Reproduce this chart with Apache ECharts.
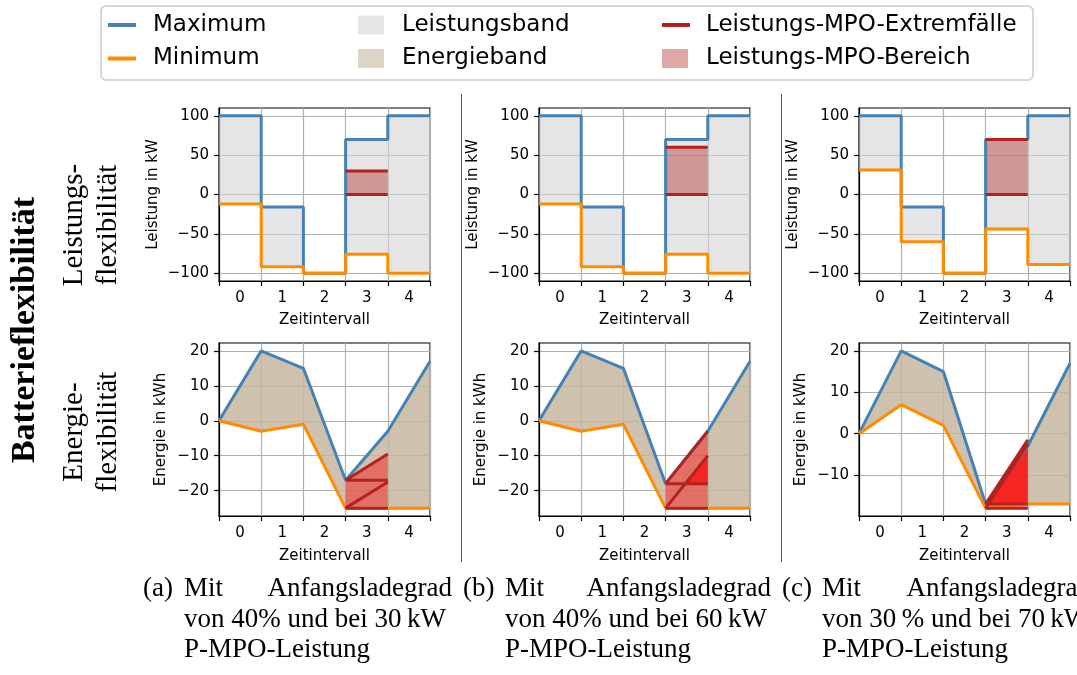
<!DOCTYPE html>
<html>
<head>
<meta charset="utf-8">
<script src="https://cdn.jsdelivr.net/npm/echarts@6/dist/echarts.min.js"></script>
<style>
html, body { margin: 0; padding: 0; background: #fff; }
#chart { width: 1077px; height: 675px; }
</style>
</head>
<body>
<div id="chart"></div>
<script>
// Zeitintervalle und ihre Grenzen
const intervals = ['0', '1', '2', '3', '4'];
const bounds = [0, 1, 2, 3, 4, 5];

// (a) Anfangsladegrad 40 %, 30 kW P-MPO
const pMaxA = [100, -16, -100, 70, 100];
const pMinA = [-12, -92, -100, -76, -100];
const eMaxA = [0, 20, 15, -17, -3, 17];
const eMinA = [0, -3, -1, -25, -25, -25];
const mpoPowA = [0, 30];
const mpoStartA = [-17, -25];
const mpoEndA = [-9.5, -17.5];

// (b) Anfangsladegrad 40 %, 60 kW P-MPO
const pMaxB = [100, -16, -100, 70, 100];
const pMinB = [-12, -92, -100, -76, -100];
const eMaxB = [0, 20, 15, -18, -3, 17];
const eMinB = [0, -3, -1, -25, -25, -25];
const mpoPowB = [0, 60];
const mpoStartB = [-18, -25];
const mpoEndB = [-3, -10];

// (c) Anfangsladegrad 30 %, 70 kW P-MPO
const pMaxC = [100, -16, -100, 70, 100];
const pMinC = [31, -60, -100, -44, -89];
const eMaxC = [0, 20, 15, -17, -3, 17];
const eMinC = [0, 7, 2, -18, -17, -17];
const mpoPowC = [0, 70];
const mpoStartC = [-17, -18];
const mpoEndC = [-1.5, -2.5];

// Achsen
const mpoInterval = 3;
const powRange = [-110, 110];
const powTicks = [-100, -50, 0, 50, 100];
const enRangeAB = [-27.25, 22.25];
const enRangeC = [-19.9, 21.9];
const enTicksAB = [-20, -10, 0, 10, 20];
const enTicksC = [-10, 0, 10, 20];

// Beschriftungen
const capLetters = ['(a)', '(b)', '(c)'];
const capSoc = ['40%', '40%', '30\u2009%'];
const capPow = ['30', '60', '70'];

const panels = [
  { pMax: pMaxA, pMin: pMinA, eMax: eMaxA, eMin: eMinA, pow: mpoPowA, st: mpoStartA, en: mpoEndA, er: enRangeAB, et: enTicksAB },
  { pMax: pMaxB, pMin: pMinB, eMax: eMaxB, eMin: eMinB, pow: mpoPowB, st: mpoStartB, en: mpoEndB, er: enRangeAB, et: enTicksAB },
  { pMax: pMaxC, pMin: pMinC, eMax: eMaxC, eMin: eMinC, pow: mpoPowC, st: mpoStartC, en: mpoEndC, er: enRangeC, et: enTicksC }
];

const BLUE = '#4682b4', ORANGE = '#ff8c00', DARKRED = '#b22222';
const MPO_FILL = 'rgba(255,0,0,0.42)';
const gridLeft = [219, 539, 859];
const gridTop = [108, 343];
const FONT = 'DejaVu Sans';
const SERIF = 'Liberation Serif';

const minus = v => (v < 0 ? '\u2212' + (-v) : String(v));

// Fläche zwischen unterer und oberer Kurve als ein Polygon
function bandItem(params, api) {
  if (params.dataIndexInside !== 0) return null;
  const n = params.dataInsideLength;
  const pts = [];
  for (let j = 0; j < n; j++) pts.push(api.coord([api.value(0, j), api.value(1, j)]));
  for (let j = n - 1; j >= 0; j--) pts.push(api.coord([api.value(0, j), api.value(2, j)]));
  return { type: 'polygon', shape: { points: pts }, style: { fill: api.visual('color') } };
}

function stepBand(lo, hi) {
  const out = [];
  lo.forEach((v, i) => {
    out.push([bounds[i], v, hi[i]]);
    out.push([bounds[i + 1], v, hi[i]]);
  });
  return out;
}

function stepLine(vals) {
  return vals.map((v, i) => [bounds[i], v]).concat([[bounds[vals.length], vals[vals.length - 1]]]);
}

function band(idx, name, data, color) {
  return {
    type: 'custom', name: name, xAxisIndex: idx, yAxisIndex: idx,
    renderItem: bandItem, data: data, clip: true, silent: true,
    itemStyle: { color: color }
  };
}

function line(idx, name, data, color, step) {
  return {
    type: 'line', name: name, xAxisIndex: idx, yAxisIndex: idx,
    data: data, step: step || false, symbol: 'none', silent: true,
    color: color, lineStyle: { color: color, width: 3 }
  };
}

const grids = [], xAxes = [], yAxes = [], series = [];

function axisX(idx, gap) {
  return {
    gridIndex: idx, type: 'value', min: bounds[0], max: bounds[bounds.length - 1],
    name: 'Zeitintervall', nameLocation: 'middle', nameGap: gap,
    nameTextStyle: { fontSize: 15, fontFamily: FONT, color: '#000' },
    axisLine: { show: true, onZero: false, lineStyle: { color: '#000', width: 1.2 } },
    axisTick: { show: true, length: 5, customValues: bounds, lineStyle: { color: '#000', width: 1.2 } },
    axisLabel: {
      customValues: intervals.map((_, i) => i + 0.5),
      formatter: v => intervals[Math.floor(v)],
      fontSize: 15, fontFamily: FONT, color: '#000', margin: 10
    },
    splitLine: { show: true, lineStyle: { color: '#b0b0b0', width: 1.2 } }
  };
}

function axisY(idx, name, range, ticks, gap) {
  return {
    gridIndex: idx, type: 'value', min: range[0], max: range[1],
    name: name, nameLocation: 'middle', nameGap: gap,
    nameTextStyle: { fontSize: 15, fontFamily: FONT, color: '#000' },
    axisLine: { show: true, onZero: false, lineStyle: { color: '#000', width: 1.2 } },
    axisTick: { show: true, length: 5, customValues: ticks, lineStyle: { color: '#000', width: 1.2 } },
    axisLabel: { customValues: ticks, formatter: minus, fontSize: 15, fontFamily: FONT, color: '#000', margin: 10 },
    splitLine: { show: true, lineStyle: { color: '#b0b0b0', width: 1.2 } }
  };
}

panels.forEach((p, k) => {
  const top = k * 2, bot = k * 2 + 1;
  gridTop.forEach(t => grids.push({
    left: gridLeft[k], top: t, width: 211, height: 173,
    show: true, borderColor: '#000', borderWidth: 1.2, backgroundColor: 'transparent'
  }));
  xAxes.push(axisX(top, 32), axisX(bot, 33));
  yAxes.push(axisY(top, 'Leistung in kW', powRange, powTicks, 58));
  yAxes.push(axisY(bot, 'Energie in kWh', p.er, p.et, 50));

  const x0 = bounds[mpoInterval], x1 = bounds[mpoInterval + 1];

  // Leistung
  series.push(band(top, 'Leistungsband', stepBand(p.pMin, p.pMax), 'rgba(211,211,211,0.6)'));
  series.push(line(top, 'Maximum', stepLine(p.pMax), BLUE, 'end'));
  series.push(line(top, 'Minimum', stepLine(p.pMin), ORANGE, 'end'));
  series.push(band(top, 'Leistungs-MPO-Bereich',
    [[x0, p.pow[0], p.pow[1]], [x1, p.pow[0], p.pow[1]]], 'rgba(178,34,34,0.4)'));
  p.pow.forEach(v => series.push(line(top, 'Leistungs-MPO-Extremfälle', [[x0, v], [x1, v]], DARKRED)));

  // Energie
  series.push(band(bot, 'Energieband', bounds.map((x, j) => [x, p.eMin[j], p.eMax[j]]), 'rgba(197,181,158,0.84)'));
  series.push(line(bot, 'Maximum', bounds.map((x, j) => [x, p.eMax[j]]), BLUE));
  series.push(line(bot, 'Minimum', bounds.map((x, j) => [x, p.eMin[j]]), ORANGE));
  // je Startwert: zwischen 0-kW- und MPO-Verlauf, dazu zwischen unterem MPO-Verlauf und oberem Startwert
  p.st.forEach((s, j) => {
    series.push(band(bot, 'Leistungs-MPO-Bereich', [[x0, s, s], [x1, s, p.en[j]]], MPO_FILL));
  });
  series.push(band(bot, 'Leistungs-MPO-Bereich', [[x0, p.st[1], p.st[0]], [x1, p.en[1], p.st[0]]], MPO_FILL));
  p.st.forEach((s, j) => {
    series.push(line(bot, 'Leistungs-MPO-Extremfälle', [[x0, s], [x1, s]], DARKRED));
    series.push(line(bot, 'Leistungs-MPO-Extremfälle', [[x0, s], [x1, p.en[j]]], DARKRED));
  });
});

// Legende: drei Spalten, je ein Eintrag pro Legendenkomponente
function leg(name, left, rowY, w, h, color, pad) {
  return {
    data: [{ name: name, icon: 'rect', itemStyle: { color: color } }],
    left: left, top: rowY - 11.5, itemWidth: w, itemHeight: h,
    padding: 0, selectedMode: false,
    textStyle: { fontSize: 23, fontFamily: FONT, color: '#000', padding: [0, 0, 0, pad] }
  };
}
const legends = [
  leg('Maximum', 108, 25, 28, 4, BLUE, 12),
  leg('Minimum', 108, 58.5, 28, 4, ORANGE, 12),
  leg('Leistungsband', 358, 25, 26, 19, '#e5e5e5', 13),
  leg('Energieband', 358, 58.5, 26, 19, '#ddd5c5', 13),
  leg('Leistungs-MPO-Extremfälle', 662, 25, 28, 4, DARKRED, 11),
  leg('Leistungs-MPO-Bereich', 662, 58.5, 26, 19, '#e0a7a7', 13)
];

// Texte und Rahmen
const graphics = [
  { type: 'rect', shape: { x: 101, y: 6, width: 932, height: 74, r: 5 }, style: { fill: 'none', stroke: '#cccccc', lineWidth: 1.5 } },
  { type: 'line', shape: { x1: 461.5, y1: 94, x2: 461.5, y2: 562 }, style: { stroke: '#555', lineWidth: 1 } },
  { type: 'line', shape: { x1: 781.5, y1: 94, x2: 781.5, y2: 562 }, style: { stroke: '#555', lineWidth: 1 } }
];

function vtext(str, x, y, size, weight) {
  return {
    type: 'text', x: x, y: y, rotation: Math.PI / 2,
    style: {
      text: str, fontSize: size, fontFamily: SERIF, fontWeight: weight || 'normal', fill: '#000',
      align: 'center', verticalAlign: 'middle', textAlign: 'center', textVerticalAlign: 'middle'
    }
  };
}
graphics.push(vtext('Batterieflexibilität', 25, 330, 34, 'bold'));
graphics.push(vtext('Leistungs-', 74, 225, 29));
graphics.push(vtext('flexibilität', 108, 225, 29));
graphics.push(vtext('Energie-', 74, 432, 29));
graphics.push(vtext('flexibilität', 108, 432, 29));

function htext(str, x, y, align) {
  return {
    type: 'text', x: x, y: y,
    style: {
      text: str, fontSize: 27, fontFamily: SERIF, fill: '#000',
      align: align, verticalAlign: 'middle', textAlign: align, textVerticalAlign: 'middle'
    }
  };
}
const capLabelX = [143, 463, 782], capTextX = [184, 505, 822], capRightX = [452, 771, 1091];
capLetters.forEach((c, k) => {
  graphics.push(htext(c, capLabelX[k], 589, 'left'));
  graphics.push(htext('Mit', capTextX[k], 589, 'left'));
  graphics.push(htext('Anfangsladegrad', capRightX[k], 589, 'right'));
  graphics.push(htext('von ' + capSoc[k] + ' und bei ' + capPow[k] + '\u2009kW', capTextX[k], 620, 'left'));
  graphics.push(htext('P-MPO-Leistung', capTextX[k], 650, 'left'));
});

const chart = echarts.init(document.getElementById('chart'));
chart.setOption({
  animation: false,
  backgroundColor: '#fff',
  textStyle: { fontFamily: FONT },
  grid: grids,
  xAxis: xAxes,
  yAxis: yAxes,
  legend: legends,
  graphic: { elements: graphics },
  series: series
});
</script>
</body>
</html>
